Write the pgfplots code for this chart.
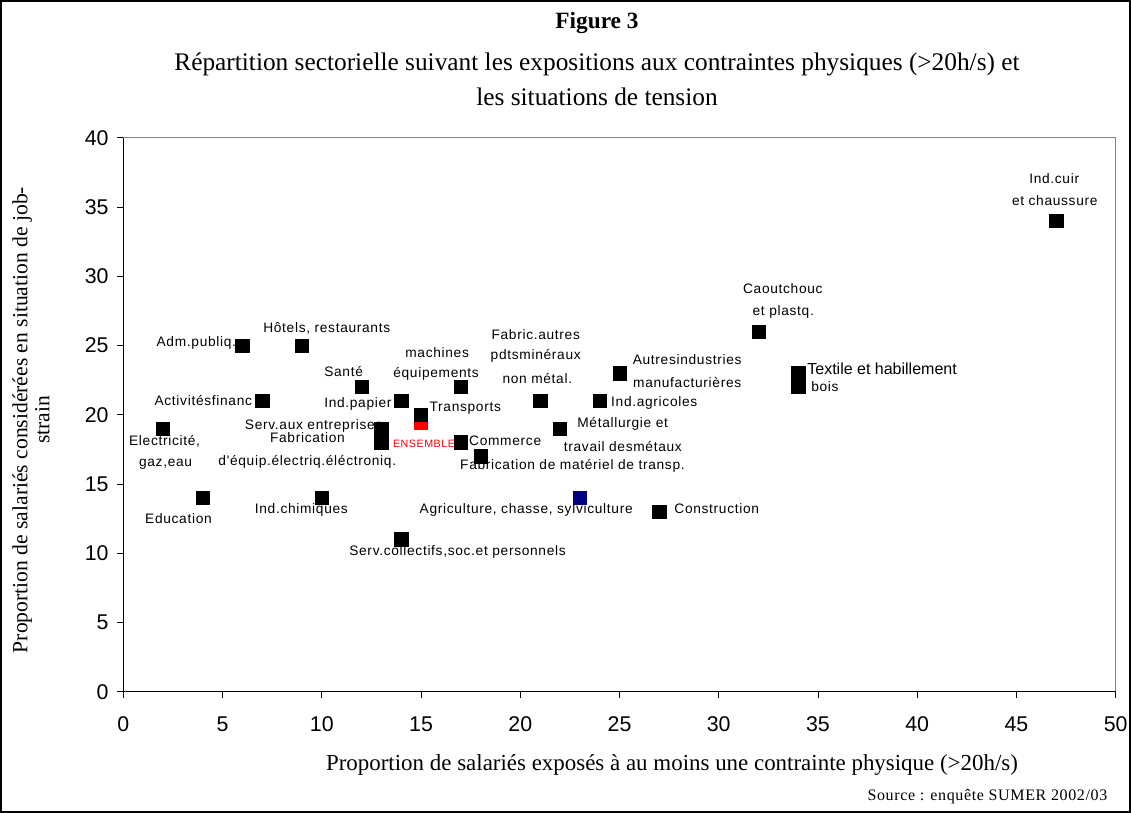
\documentclass[border=0pt]{standalone}
\usepackage{fontspec}
\setmainfont{Liberation Serif}
\newfontfamily\arial{Liberation Sans}
\newfontfamily\arialsp[LetterSpace=5]{Liberation Sans}
\newfontfamily\timessp[LetterSpace=4]{Liberation Serif}
\usepackage{pgfplots}
\pgfplotsset{compat=1.18}
\definecolor{navyblue}{RGB}{0,0,128}
\definecolor{framegrey}{RGB}{128,128,128}
\tikzset{lbl/.style={font=\arialsp\fontsize{10.3}{12}\selectfont, inner sep=0pt}}
\begin{document}
\begin{tikzpicture}
% page: 1131 x 813 px, 1 px = 0.75pt
\useasboundingbox (0,0) rectangle (848.25pt,609.75pt);
\draw[line width=1.2pt] (0.6pt,0.6pt) rectangle (847.65pt,609.15pt);

\node[font=\fontsize{17.5}{20}\selectfont\bfseries] at (597*0.75pt,790*0.75pt) {Figure 3};
\node[font=\fontsize{19}{22}\selectfont] at (597*0.75pt,749*0.75pt)
  {Répartition sectorielle suivant les expositions aux contraintes physiques (>20h/s) et};
\node[font=\fontsize{19}{22}\selectfont] at (597*0.75pt,716*0.75pt)
  {les situations de tension};

\begin{axis}[
    at={(92.475pt,90.975pt)}, anchor=south west,
    scale only axis, width=744.3pt, height=415.5pt,
    xmin=0, xmax=50, ymin=0, ymax=40,
    xtick={0,5,...,50}, ytick={0,5,...,40},
    tick align=outside, xtick pos=bottom, ytick pos=left,
    major tick length=4.5pt,
    every tick/.style={black, line width=0.6pt},
    axis line style={framegrey, line width=0.8pt},
    ticklabel style={font=\arial\fontsize{16}{18}\selectfont},
    /pgf/number format/assume math mode=true,
    xticklabel style={yshift=-10.5pt},
    yticklabel style={xshift=-3pt},
    clip=false,
]
% ENSEMBLE (red), drawn first, partly hidden
\addplot[only marks, mark=square*, mark size=5pt, color=red] coordinates {(15,19.4)};
% sectors
\addplot[only marks, mark=square*, mark size=5pt, color=black] table {
x  y
2  19
4  14
6  25
9  25
7  21
12 22
14 21
15 20
13 19
13 18
10 14
14 11
17 22
21 21
25 23
24 21
22 19
17 18
18 17
27 13
32 26
34 23
34 22
47 34
};
% Agriculture (blue)
\addplot[only marks, mark=square*, mark size=5pt, color=navyblue] coordinates {(23,14)};

\draw[black, line width=0.8pt] (rel axis cs:0,1) -- (rel axis cs:0,0) -- (rel axis cs:1,0);

\node[lbl] at (axis cs:3.68,25.2) {Adm.publiq.};
\node[lbl] at (axis cs:10.25,26.24) {Hôtels, restaurants};
\node[lbl] at (axis cs:11.1,23.1) {Santé};
\node[lbl] at (axis cs:4.03,21.06) {Activitésfinanc};
\node[lbl] at (axis cs:11.82,20.75) {Ind.papier};
\node[lbl] at (axis cs:9.59,19.18) {Serv.aux entreprises};
\node[lbl] at (axis cs:9.28,18.34) {Fabrication};
\node[lbl] at (axis cs:9.27,16.6) {d'équip.électriq.éléctroniq.};
\node[lbl] at (axis cs:2.08,18.05) {Electricité,};
\node[lbl] at (axis cs:2.13,16.44) {gaz,eau};
\node[lbl, font=\arialsp\fontsize{8}{9}\selectfont, text=red] at (axis cs:15.15,17.93) {ENSEMBLE};
\node[lbl] at (axis cs:2.78,12.52) {Education};
\node[lbl] at (axis cs:8.97,13.12) {Ind.chimiques};
\node[lbl] at (axis cs:16.84,10.09) {Serv.collectifs,soc.et personnels};
\node[lbl] at (axis cs:15.81,24.5) {machines};
\node[lbl] at (axis cs:15.76,22.94) {équipements};
\node[lbl] at (axis cs:17.23,20.46) {Transports};
\node[lbl] at (axis cs:20.78,25.8) {Fabric.autres};
\node[lbl] at (axis cs:20.78,24.24) {pdtsminéraux};
\node[lbl] at (axis cs:20.86,22.63) {non métal.};
\node[lbl] at (axis cs:28.41,23.95) {Autresindustries};
\node[lbl] at (axis cs:28.41,22.31) {manufacturières};
\node[lbl] at (axis cs:26.75,20.87) {Ind.agricoles};
\node[lbl] at (axis cs:25.16,19.33) {Métallurgie et};
\node[lbl] at (axis cs:25.17,17.67) {travail desmétaux};
\node[lbl] at (axis cs:19.24,18.12) {Commerce};
\node[lbl] at (axis cs:22.63,16.32) {Fabrication de matériel de transp.};
\node[lbl] at (axis cs:20.3,13.12) {Agriculture, chasse, sylviculture};
\node[lbl] at (axis cs:29.9,13.24) {Construction};
\node[lbl] at (axis cs:33.23,29.13) {Caoutchouc};
\node[lbl] at (axis cs:33.25,27.44) {et plastq.};
\node[lbl, font=\arial\fontsize{12}{14}\selectfont] at (axis cs:38.23,23.3) {Textile et habillement};
\node[lbl] at (axis cs:35.35,22.02) {bois};
\node[lbl] at (axis cs:46.9,37.02) {Ind.cuir};
\node[lbl] at (axis cs:46.93,35.45) {et chaussure};
\end{axis}

\node[font=\fontsize{16.2}{16.5}\selectfont, rotate=90, align=center] at (31*0.75pt,393*0.75pt)
  {Proportion de salariés considérées en situation de job-\\strain};
\node[font=\fontsize{17.2}{20}\selectfont] at (672*0.75pt,48*0.75pt)
  {Proportion de salariés exposés à au moins une contrainte physique (>20h/s)};
\node[font=\timessp\fontsize{12}{14}\selectfont, anchor=east] at (1112*0.75pt,16*0.75pt)
  {Source : enquête SUMER 2002/03};
\end{tikzpicture}
\end{document}
